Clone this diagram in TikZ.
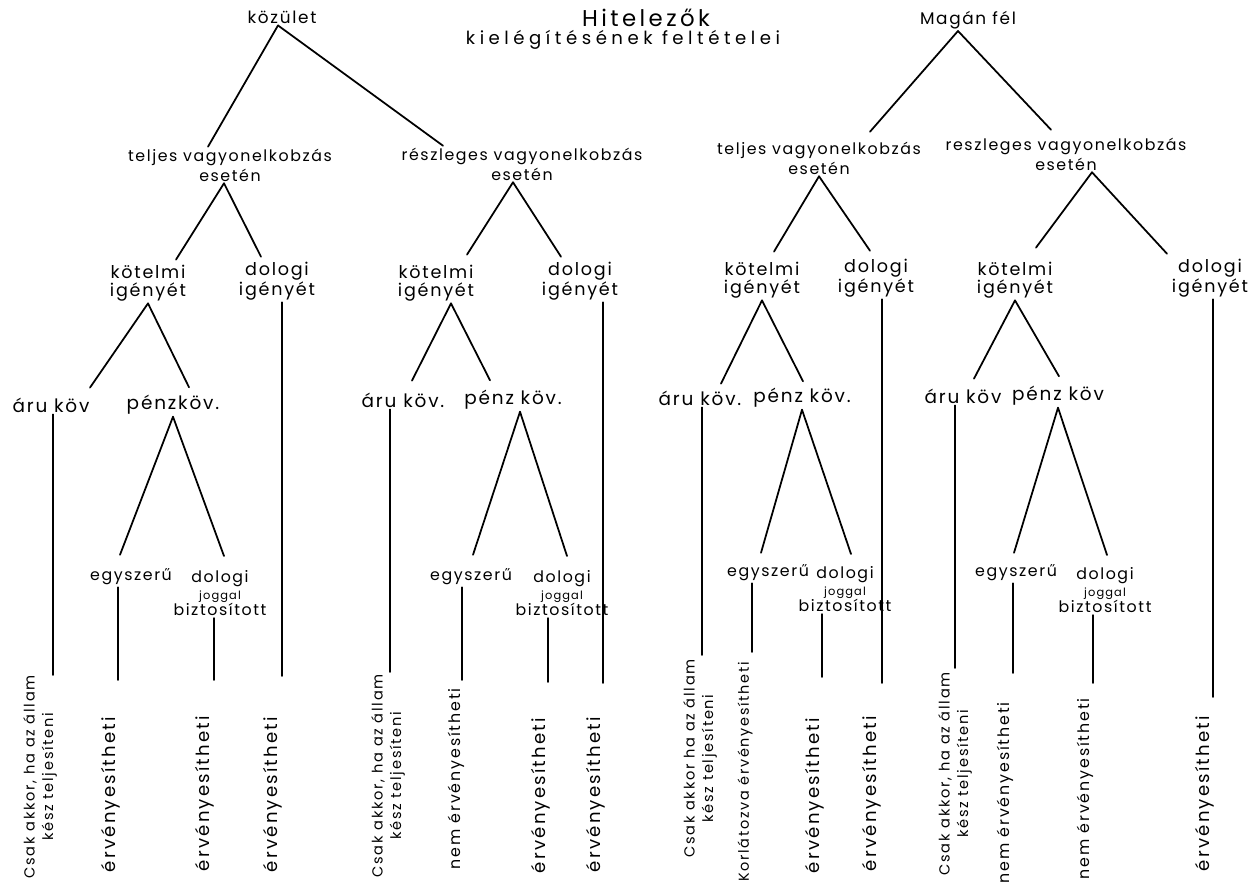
\documentclass[tikz,border=0pt]{standalone}
\usepackage{fontspec}
\setmainfont{Poppins}
\newfontfamily\handfont[LetterSpace=10]{Poppins}
\newfontfamily\widefont[LetterSpace=12]{Poppins}
\newfontfamily\titlefont[LetterSpace=15]{Poppins}
\newfontfamily\titlefontb[LetterSpace=25]{Poppins}
\usetikzlibrary{calc}

\begin{document}
\begin{tikzpicture}[
  x=0.02cm, y=-0.02cm,
  top/.style={inner sep=1pt, font=\handfont\fontsize{9.6}{11}\selectfont},
  lbl/.style={align=center, inner sep=1pt, font=\handfont\fontsize{9}{11.3}\selectfont},
  mid/.style={align=center, inner sep=1pt, font=\handfont\fontsize{10}{10.5}\selectfont},
  kov/.style={inner sep=1pt, font=\handfont\fontsize{10.5}{12}\selectfont},
  sub/.style={align=center, inner sep=1pt, font=\handfont\fontsize{9}{9.6}\selectfont},
  leaf/.style={rotate=90, anchor=east, align=center, inner sep=1pt, font=\widefont\fontsize{10.3}{11}\selectfont},
  leafnem/.style={leaf, font=\widefont\fontsize{9}{11}\selectfont},
  leafcs/.style={leaf, font=\widefont\fontsize{8.3}{10.5}\selectfont},
  ln/.style={line width=1pt, line cap=round},
]
\useasboundingbox (0,0) rectangle (1251,887);

\node[font=\titlefont\fontsize{13}{15}\selectfont] (ttl1) at (646,18) {Hitelezők};
\node[font=\titlefontb\fontsize{10.3}{12}\selectfont] (ttl2) at (623,40) {kielégítésének feltételei};

\node[top] (kz) at (282,17) {közület};
\node[top] (mf) at (968,20) {Magán fél};

\node[lbl] (tA) at (230,165) {teljes vagyonelkobzás\\esetén};
\node[lbl] (rB) at (522,164) {részleges vagyonelkobzás\\esetén};
\node[lbl] (tC) at (819,158) {teljes vagyonelkobzás\\esetén};
\node[lbl] (rD) at (1066,154) {reszleges vagyonelkobzás\\esetén};

\draw[ln] ($(kz.south)+(-4,0)$) -- ($(tA.north)+(-22,0)$);
\draw[ln] ($(kz.south)+(-4,0)$) -- ($(rB.north)+(-79,0)$);
\draw[ln] ($(mf.south)+(-10,0)$) -- ($(tC.north)+(51,-8)$);
\draw[ln] ($(mf.south)+(-10,0)$) -- ($(rD.north)+(-15,-6)$);

\node[mid] (kA) at (148,283) {kötelmi\\igényét};
\node[mid] (dA) at (277,281) {dologi\\igényét};
\node[mid] (kB) at (436,283) {kötelmi\\igényét};
\node[mid] (dB) at (580,281) {dologi\\igényét};
\node[mid] (kC) at (762,280) {kötelmi\\igényét};
\node[mid] (dC) at (876,278) {dologi\\igényét};
\node[mid] (kD) at (1015,280) {kötelmi\\igényét};
\node[mid] (dD) at (1210,278) {dologi\\igényét};

\draw[ln] ($(tA.south)+(-6,0)$) -- ($(kA.north)+(28,-3)$);
\draw[ln] ($(tA.south)+(-6,0)$) -- ($(dA.north)+(-16,-3)$);
\draw[ln] ($(rB.south)+(-9,0)$) -- ($(kB.north)+(31,-8)$);
\draw[ln] ($(rB.south)+(-9,0)$) -- ($(dB.north)+(-19,-3)$);
\draw[ln] (tC.south) -- ($(kC.north)+(12,-8)$);
\draw[ln] (tC.south) -- ($(dC.north)+(-6,-6)$);
\draw[ln] ($(rD.south)+(26,0)$) -- ($(kD.north)+(21,-12)$);
\draw[ln] ($(rD.south)+(26,0)$) -- ($(dD.north)+(-43,-3)$);

\node[kov] (aA) at (51,405) {áru köv};
\node[kov] (pA) at (173,405) {pénzköv.};
\node[kov] (aB) at (403,400) {áru köv.};
\node[kov] (pB) at (513,400) {pénz köv.};
\node[kov] (aC) at (700,398) {áru köv.};
\node[kov] (pC) at (802,398) {pénz köv.};
\node[kov] (aD) at (963,396) {áru köv};
\node[kov] (pD) at (1058,396) {pénz köv};

\draw[ln] (kA.south) -- ($(aA.north)+(39,-8)$);
\draw[ln] (kA.south) -- ($(pA.north)+(16,-6)$);
\draw[ln] ($(kB.south)+(15,0)$) -- ($(aB.north)+(9,-10)$);
\draw[ln] ($(kB.south)+(15,0)$) -- ($(pB.north)+(-23,-8)$);
\draw[ln] (kC.south) -- ($(aC.north)+(21,-5)$);
\draw[ln] (kC.south) -- ($(pC.north)+(1,-5)$);
\draw[ln] (kD.south) -- ($(aD.north)+(11,-8)$);
\draw[ln] (kD.south) -- ($(pD.north)+(1,-8)$);

\node[sub] (eA) at (131,577) {egyszerű};
\node[sub, anchor=north] (jA) at (220,568) {dologi\\{\fontsize{6.5}{7}\selectfont joggal}\\biztosított};
\node[sub] (eB) at (471,577) {egyszerű};
\node[sub, anchor=north] (jB) at (562,568) {dologi\\{\fontsize{6.5}{7}\selectfont joggal}\\biztosított};
\node[sub] (eC) at (768,573) {egyszerű};
\node[sub, anchor=north] (jC) at (845,564) {dologi\\{\fontsize{6.5}{7}\selectfont joggal}\\biztosított};
\node[sub] (eD) at (1016,573) {egyszerű};
\node[sub, anchor=north] (jD) at (1105,565) {dologi\\{\fontsize{6.5}{7}\selectfont joggal}\\biztosított};

\draw[ln] (pA.south) -- ($(eA.north)+(-11,-12)$);
\draw[ln] (pA.south) -- ($(jA.north)+(4,-12)$);
\draw[ln] ($(pB.south)+(7,0)$) -- ($(eB.north)+(2,-12)$);
\draw[ln] ($(pB.south)+(7,0)$) -- ($(jB.north)+(5,-12)$);
\draw[ln] (pC.south) -- ($(eC.north)+(-7,-10)$);
\draw[ln] (pC.south) -- ($(jC.north)+(6,-10)$);
\draw[ln] (pD.south) -- ($(eD.north)+(-2,-10)$);
\draw[ln] (pD.south) -- ($(jD.north)+(2,-10)$);

\coordinate (bA1) at (53,675);
\coordinate (bA2) at (118,680);
\coordinate (bA3) at (214,680);
\coordinate (bA4) at (282,676);
\coordinate (bB1) at (390,672);
\coordinate (bB2) at (462,680);
\coordinate (bB3) at (548,682);
\coordinate (bB4) at (603,683);
\coordinate (bC1) at (702,655);
\coordinate (bC2) at (752,652);
\coordinate (bC3) at (822,677);
\coordinate (bC4) at (882,683);
\coordinate (bD1) at (955,668);
\coordinate (bD2) at (1013,673);
\coordinate (bD3) at (1093,683);
\coordinate (bD4) at (1213,697);

\node[leafcs] (lA1) at (40,673) {Csak akkor, ha az állam\\kész teljesíteni};
\node[leaf] (lA2) at (111,715) {érvényesítheti};
\node[leaf] (lA3) at (205,714) {érvényesítheti};
\node[leaf] (lA4) at (273,715) {érvényesítheti};
\node[leafcs] (lB1) at (388,672) {Csak akkor, ha az állam\\kész teljesíteni};
\node[leafnem] (lB2) at (456,686) {nem érvényesítheti};
\node[leaf] (lB3) at (541,716) {érvényesítheti};
\node[leaf] (lB4) at (596,715) {érvényesítheti};
\node[leafcs] (lC1) at (700,657) {Csak akkor ha az állam\\kész teljesíteni};
\node[leafcs, font=\widefont\fontsize{8.2}{10.5}\selectfont] (lC2) at (745,660) {Korlátozva érvényesítheti};
\node[leaf] (lC3) at (815,716) {érvényesítheti};
\node[leaf] (lC4) at (872,714) {érvényesítheti};
\node[leafcs] (lD1) at (955,670) {Csak akkor, ha az állam\\kész teljesíteni};
\node[leafnem] (lD2) at (1005,700) {nem érvényesítheti};
\node[leafnem] (lD3) at (1085,696) {nem érvényesítheti};
\node[leaf] (lD4) at (1205,714) {érvényesítheti};

\draw[ln] (aA.south -| bA1) -- (bA1);
\draw[ln] (eA.south -| bA2) -- (bA2);
\draw[ln] (jA.south -| bA3) -- (bA3);
\draw[ln] (dA.south -| bA4) -- (bA4);
\draw[ln] (aB.south -| bB1) -- (bB1);
\draw[ln] (eB.south -| bB2) -- (bB2);
\draw[ln] (jB.south -| bB3) -- (bB3);
\draw[ln] (dB.south -| bB4) -- (bB4);
\draw[ln] (aC.south -| bC1) -- (bC1);
\draw[ln] (eC.south -| bC2) -- (bC2);
\draw[ln] (jC.south -| bC3) -- (bC3);
\draw[ln] (dC.south -| bC4) -- (bC4);
\draw[ln] (aD.south -| bD1) -- (bD1);
\draw[ln] (eD.south -| bD2) -- (bD2);
\draw[ln] (jD.south -| bD3) -- (bD3);
\draw[ln] (dD.south -| bD4) -- (bD4);
\end{tikzpicture}
\end{document}
